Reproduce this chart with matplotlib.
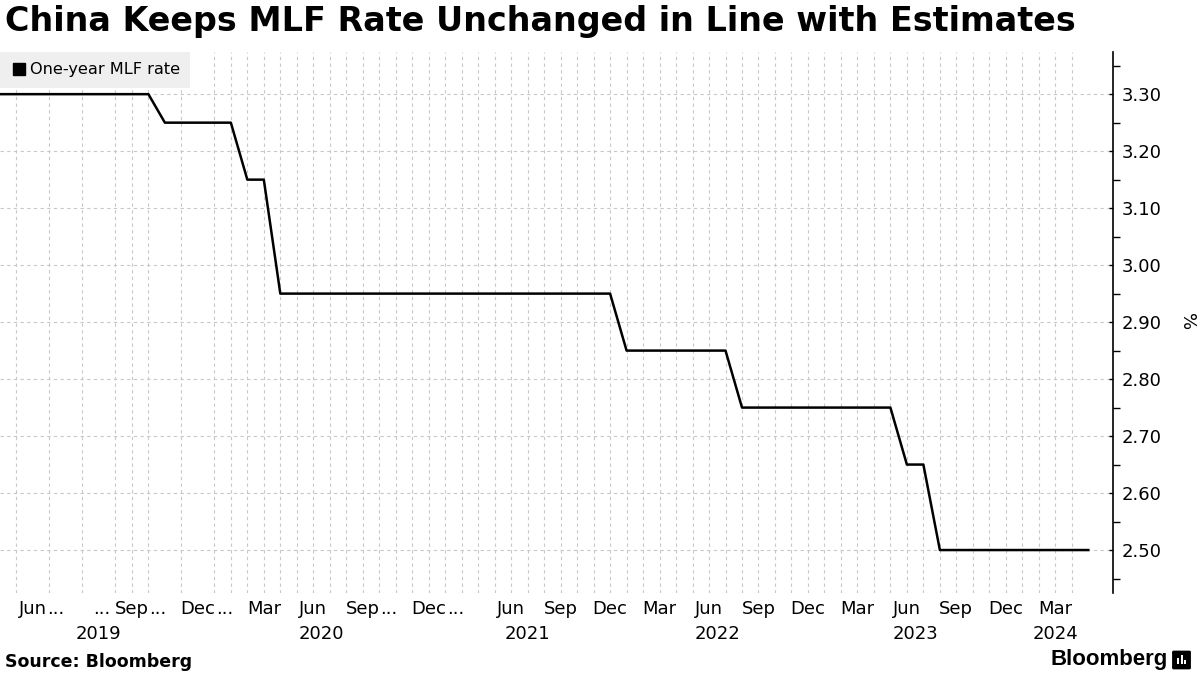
import numpy as np
import matplotlib.pyplot as plt
from matplotlib.lines import Line2D
from matplotlib.patches import FancyBboxPatch, Rectangle
import matplotlib.transforms as mtransforms

# one observation per point, x axis is the observation index
rates = [
    3.30, 3.30, 3.30, 3.30, 3.30, 3.30, 3.30, 3.30, 3.30, 3.30,
    3.25, 3.25, 3.25, 3.25, 3.25,
    3.15, 3.15,
    2.95, 2.95, 2.95, 2.95, 2.95, 2.95, 2.95, 2.95, 2.95, 2.95,
    2.95, 2.95, 2.95, 2.95, 2.95, 2.95, 2.95, 2.95, 2.95, 2.95, 2.95,
    2.85, 2.85, 2.85, 2.85, 2.85, 2.85, 2.85,
    2.75, 2.75, 2.75, 2.75, 2.75, 2.75, 2.75, 2.75, 2.75, 2.75,
    2.65, 2.65,
    2.50, 2.50, 2.50, 2.50, 2.50, 2.50, 2.50, 2.50, 2.50, 2.50,
]
obs_years = ([2019] * 13 + [2020] * 14 + [2021] * 11 + [2022] * 12
             + [2023] * 12 + [2024] * 5)

month_idx = [2, 8, 12, 16, 19, 22, 26, 31, 34, 37, 40, 43, 46, 49, 52, 55, 58, 61, 64]
month_labels = ["Jun...", "...Sep...", "Dec...", "Mar", "Jun", "Sep...",
                "Dec...", "Jun", "Sep", "Dec", "Mar", "Jun", "Sep", "Dec",
                "Mar", "Jun", "Sep", "Dec", "Mar"]
grid_idx = [1, 3, 5, 7, 8, 9, 11, 13] + list(range(14, 66))

x = np.arange(len(rates))
years = np.array(obs_years)
W, H = 1200, 675

fig = plt.figure(figsize=(12, 6.75), dpi=100)
ax = fig.add_axes([0.0, 1 - 593 / H, 1113 / W, (593 - 52) / H])

for g in grid_idx:
    ax.axvline(g, color="#c8c8c8", lw=0.8, ls=(0, (3, 3)), zorder=0)
for v in np.arange(2.5, 3.31, 0.1):
    ax.axhline(v, color="#c8c8c8", lw=0.8, ls=(0, (3, 3)), zorder=0)

ax.plot(x, rates, color="black", lw=1.8, zorder=3)

ax.set_xlim(0, 67.5)
ax.set_ylim(2.4246, 3.374)

for s in ["top", "left", "bottom"]:
    ax.spines[s].set_visible(False)
ax.spines["right"].set_linewidth(1.2)

ax.yaxis.tick_right()
ax.set_yticks(np.arange(2.5, 3.31, 0.1))
ax.set_yticklabels([f"{v:.2f}" for v in np.arange(2.5, 3.31, 0.1)])
ax.set_yticks(np.arange(2.45, 3.37, 0.1), minor=True)
ax.tick_params(axis="y", which="major", direction="in", length=3, width=1,
               labelsize=13, pad=6.5)
ax.tick_params(axis="y", which="minor", direction="out", length=5, width=1)

base_labels = [m.strip(".") for m in month_labels]
ax.set_xticks(month_idx)
ax.set_xticklabels(base_labels)
ax.tick_params(axis="x", length=0, labelsize=13, pad=5)

trans = mtransforms.blended_transform_factory(ax.transData, ax.transAxes)
for yr in sorted(set(obs_years)):
    pos = x[years == yr]
    ax.text((pos.min() + pos.max()) / 2, -0.0758, str(yr), transform=trans,
            ha="center", va="center", fontsize=13)

ax.legend(handles=[Line2D([], [], marker="s", color="black", ls="none", markersize=8)],
          labels=["One-year MLF rate"], loc="upper left", frameon=True,
          facecolor="#efefef", edgecolor="none", fancybox=False, framealpha=1,
          borderaxespad=0, fontsize=11.6, handletextpad=0.2, handlelength=1,
          borderpad=0.65)

fig.text(1187 / W, 1 - 322 / H, "%", rotation=270, ha="center", va="center",
         fontsize=13)

fig.text(0.004, 1 - 22 / H, "China Keeps MLF Rate Unchanged in Line with Estimates",
         fontsize=24, fontweight="bold", ha="left", va="center")
fig.text(0.004, 1 - 662 / H, "Source: Bloomberg", fontsize=12.5, fontweight="bold",
         ha="left", va="center")
fig.text(1168 / W, 1 - 660 / H, "Bloomberg", fontsize=16, fontweight="bold",
         family="Liberation Sans", ha="right", va="center")

icon = FancyBboxPatch((1174 / W, 1 - 668 / H), 15 / W, 16 / H,
                      boxstyle="round,pad=0.001", transform=fig.transFigure,
                      facecolor="black", edgecolor="black")
fig.patches.append(icon)
for bx, bh in [(1177, 6), (1180.5, 9), (1184, 4)]:
    fig.patches.append(Rectangle((bx / W, 1 - 664 / H), 2 / W, bh / H,
                                 transform=fig.transFigure, facecolor="white",
                                 edgecolor="none"))

# ellipsis marks next to the compressed month labels
fig.canvas.draw()
renderer = fig.canvas.get_renderer()
for lab, tl in zip(month_labels, ax.get_xticklabels()):
    bb = tl.get_window_extent(renderer)
    yc = (bb.y0 + bb.y1) / 2 / H
    if lab.startswith("..."):
        fig.text((bb.x0 - 5) / W, yc, "...", ha="right", va="center", fontsize=13)
    if lab.endswith("..."):
        fig.text((bb.x1 + 0.5) / W, yc, "...", ha="left", va="center", fontsize=13)

fig.savefig("out.png", dpi=100)
